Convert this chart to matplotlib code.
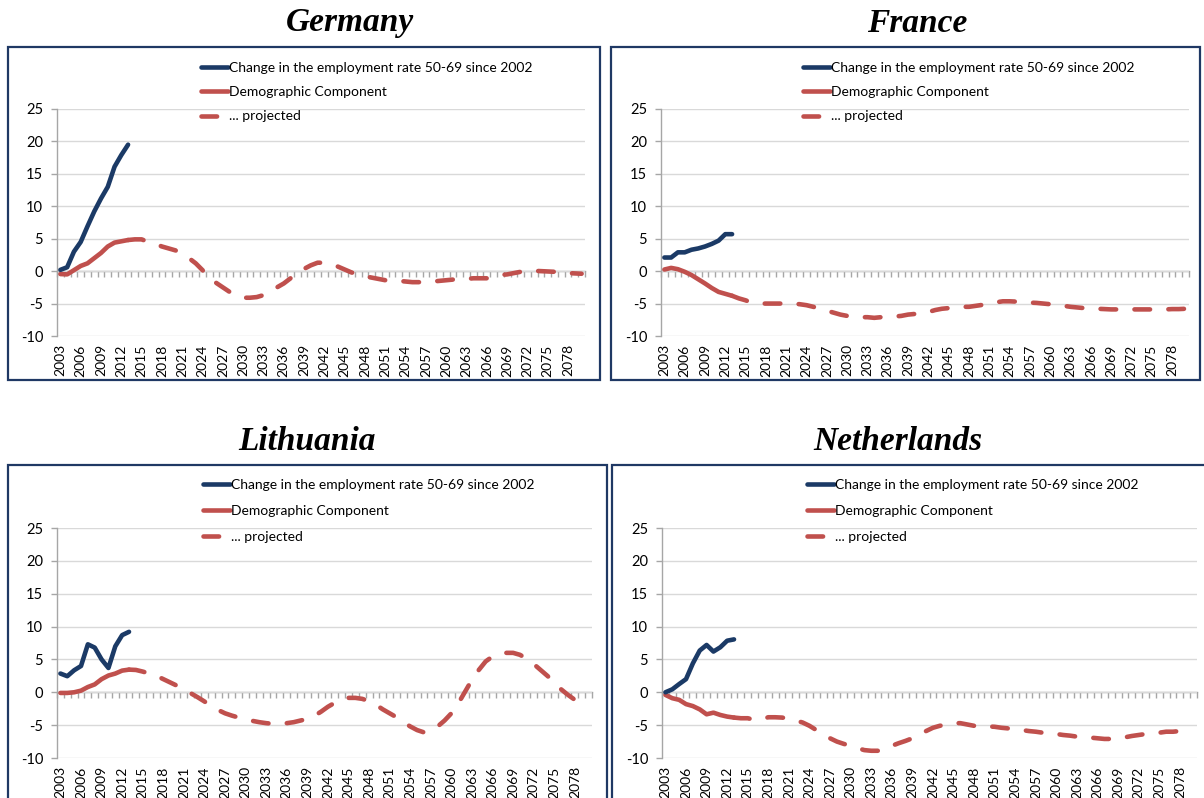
import matplotlib
matplotlib.use("Agg")
import matplotlib.pyplot as plt
from matplotlib.patches import Rectangle
from matplotlib.lines import Line2D
import numpy as np

plt.rcParams['font.family'] = ['Lato', 'DejaVu Sans']

# ---------------- data ----------------
years = list(range(2003, 2081))
hist_years = list(range(2003, 2014))       # observed period
proj_years = list(range(2013, 2081))       # projected period
tick_years = years[::3]
y_ticks = [-10, -5, 0, 5, 10, 15, 20, 25]

countries = ["Germany", "France", "Lithuania", "Netherlands"]

legend_labels = ["Change in the employment rate 50-69 since 2002",
                 "Demographic Component",
                 "... projected"]

germany_employment = [0.2, 0.6, 3.0, 4.5, 6.9, 9.2, 11.2, 13.0, 16.1, 17.9, 19.5]
germany_demographic = [-0.45, -0.5, 0.15, 0.8, 1.2, 2.0, 2.8, 3.8, 4.4, 4.6, 4.8]
germany_projected = [
    4.8, 4.9, 4.9, 4.5, 4.2, 3.8, 3.5, 3.2, 2.7, 2.0,
    1.2, 0.15, -1.0, -1.8, -2.5, -3.2, -3.7, -4.1, -4.1, -4.0,
    -3.7, -3.2, -2.5, -1.9, -1.1, -0.4, 0.35, 0.9, 1.3, 1.3,
    1.1, 0.7, 0.25, -0.2, -0.5, -0.8, -1.0, -1.2, -1.4, -1.5,
    -1.5, -1.6, -1.7, -1.7, -1.7, -1.6, -1.5, -1.4, -1.3, -1.2,
    -1.2, -1.1, -1.1, -1.1, -0.9, -0.6, -0.5, -0.3, -0.1, 0.0,
    0.05, 0.0, -0.05, -0.1, -0.2, -0.3, -0.35, -0.4]

france_employment = [2.1, 2.1, 2.9, 2.9, 3.3, 3.5, 3.8, 4.2, 4.7, 5.7, 5.7]
france_demographic = [0.25, 0.5, 0.3, -0.1, -0.6, -1.25, -1.9, -2.6, -3.2, -3.5, -3.8]
france_projected = [
    -3.8, -4.2, -4.5, -4.9, -5.0, -5.0, -5.0, -5.0, -5.0, -5.0,
    -5.1, -5.25, -5.5, -5.8, -6.1, -6.4, -6.7, -6.9, -7.0, -7.1,
    -7.1, -7.2, -7.1, -7.0, -7.0, -6.9, -6.7, -6.6, -6.4, -6.3,
    -6.0, -5.8, -5.7, -5.6, -5.5, -5.5, -5.35, -5.2, -5.0, -4.8,
    -4.65, -4.65, -4.7, -4.75, -4.85, -4.9, -5.0, -5.1, -5.2, -5.35,
    -5.5, -5.6, -5.7, -5.8, -5.8, -5.85, -5.9, -5.9, -5.9, -5.9,
    -5.9, -5.9, -5.9, -5.9, -5.9, -5.85, -5.85, -5.8]

lithuania_employment = [2.85, 2.45, 3.35, 4.0, 7.3, 6.8, 5.0, 3.7, 7.0, 8.7, 9.2]
lithuania_demographic = [-0.1, -0.1, 0.0, 0.25, 0.8, 1.2, 2.0, 2.55, 2.85, 3.3, 3.45]
lithuania_projected = [
    3.45, 3.4, 3.15, 2.85, 2.5, 2.0, 1.5, 1.0, 0.45, -0.15,
    -0.75, -1.4, -2.1, -2.7, -3.2, -3.55, -3.85, -4.1, -4.35, -4.55,
    -4.7, -4.8, -4.8, -4.7, -4.55, -4.3, -4.05, -3.6, -2.95, -2.2,
    -1.6, -1.05, -0.85, -0.85, -1.0, -1.35, -1.9, -2.6, -3.2, -3.8,
    -4.55, -5.2, -5.75, -6.1, -5.85, -5.2, -4.3, -3.2, -1.7, 0.1,
    1.9, 3.4, 4.7, 5.45, 5.85, 6.0, 6.0, 5.7, 5.1, 4.3,
    3.4, 2.5, 1.5, 0.45, -0.4, -1.15, -1.8, -2.3]

netherlands_employment = [0.0, 0.45, 1.25, 2.0, 4.4, 6.35, 7.2, 6.2, 6.85, 7.85, 8.05]
netherlands_demographic = [-0.4, -0.9, -1.15, -1.8, -2.1, -2.6, -3.35, -3.1, -3.45, -3.7, -3.85]
netherlands_projected = [
    -3.85, -3.95, -3.95, -4.2, -4.1, -3.8, -3.8, -3.85, -4.0, -4.3,
    -4.6, -5.1, -5.75, -6.35, -7.0, -7.5, -7.85, -8.15, -8.5, -8.8,
    -8.9, -8.9, -8.6, -8.15, -7.75, -7.4, -7.0, -6.5, -5.9, -5.4,
    -5.1, -4.9, -4.7, -4.7, -4.9, -5.1, -5.2, -5.2, -5.25, -5.4,
    -5.5, -5.55, -5.75, -5.9, -6.0, -6.15, -6.25, -6.35, -6.5, -6.6,
    -6.75, -6.85, -6.9, -7.0, -7.1, -7.1, -7.05, -6.85, -6.65, -6.5,
    -6.35, -6.25, -6.15, -6.0, -6.0, -5.9, -5.85, -5.75]

employment = [germany_employment, france_employment,
              lithuania_employment, netherlands_employment]
demographic = [germany_demographic, france_demographic,
               lithuania_demographic, netherlands_demographic]
projected = [germany_projected, france_projected,
             lithuania_projected, netherlands_projected]

# ---------------- layout (pixels) ----------------
W, H = 1204, 798
BLUE = '#1B3A66'
RED = '#C0504D'
GREY = '#A6A6A6'
GRID = '#D9D9D9'
FRAME = '#1F3864'
LW = 3.3
DASH = (0, (3.4, 4.0))

# axes boxes: (left, top, right, bottom) in pixels
axes_px = [(57, 109, 585, 336), (661, 109, 1189, 336),
           (57, 528, 592, 758), (662, 528, 1197, 758)]
frames_px = [(8, 47, 600, 380), (611, 47, 1200, 380),
             (8, 465, 607, 815), (612, 465, 1215, 815)]
titles_px = [(350, 23), (917, 23), (307, 441), (898, 441)]
legend_px = [(201, 62), (803, 62), (203, 479), (807, 479)]
legend_spacing = [0.88, 0.88, 1.0, 1.0]

fig = plt.figure(figsize=(W / 100, H / 100), dpi=100)

def fx(x):
    return x / W

def fy(y):
    return 1 - y / H

x_idx = {yr: i for i, yr in enumerate(years)}
xh = [x_idx[y] for y in hist_years]
xp = [x_idx[y] for y in proj_years]

for k, name in enumerate(countries):
    l, t, r, b = axes_px[k]
    ax = fig.add_axes([fx(l), fy(b), (r - l) / W, (b - t) / H])
    ax.set_xlim(-0.5, len(years) - 0.5)
    ax.set_ylim(y_ticks[0], y_ticks[-1])
    ax.set_yticks(y_ticks)
    ax.set_yticklabels([str(v) for v in y_ticks])
    ax.yaxis.grid(True, color=GRID, lw=1.0)
    ax.set_axisbelow(True)
    for s in ['top', 'right', 'bottom']:
        ax.spines[s].set_visible(False)
    ax.spines['left'].set_color(GREY)
    ax.spines['left'].set_linewidth(1.0)
    ax.tick_params(axis='y', direction='out', length=4, width=1.0,
                   color=GREY, labelsize=10.5, pad=6, labelcolor='black')
    ax.set_xticks([x_idx[y] for y in tick_years])
    ax.set_xticklabels([str(y) for y in tick_years], rotation=90,
                       fontsize=10, color='black')
    ax.tick_params(axis='x', length=0, pad=6)

    # category axis crossing at zero
    pos0 = (0 - y_ticks[0]) / (y_ticks[-1] - y_ticks[0])
    sec = ax.secondary_xaxis(pos0)
    sec.set_xticks(np.arange(len(years) + 1) - 0.5)
    sec.tick_params(direction='out', length=4, width=1.0, color=GREY,
                    labelbottom=False, labeltop=False)
    for sp in sec.spines.values():
        sp.set_color(GREY)
        sp.set_linewidth(1.0)

    ax.plot(xp, projected[k], color=RED, lw=LW, linestyle=DASH,
            dash_capstyle='round', solid_joinstyle='round', zorder=3)
    ax.plot(xh, demographic[k], color=RED, lw=LW, solid_capstyle='round',
            solid_joinstyle='round', zorder=4)
    ax.plot(xh, employment[k], color=BLUE, lw=LW, solid_capstyle='round',
            solid_joinstyle='round', zorder=5)

    handles = [Line2D([], [], color=BLUE, lw=LW, solid_capstyle='round'),
               Line2D([], [], color=RED, lw=LW, solid_capstyle='round'),
               Line2D([], [], color=RED, lw=LW, linestyle=DASH,
                      dash_capstyle='round')]
    lx, ly = legend_px[k]
    ax.legend(handles, legend_labels, loc='upper left',
              bbox_to_anchor=(fx(lx), fy(ly)), bbox_transform=fig.transFigure,
              frameon=False, fontsize=10, handlelength=1.95,
              handletextpad=0.1, labelspacing=legend_spacing[k], borderpad=0,
              borderaxespad=0)

    tx, ty = titles_px[k]
    fig.text(fx(tx), fy(ty), name, ha='center', va='center',
             fontsize=24, fontweight='bold', fontstyle='italic',
             family='Liberation Serif')

    x0, y0, x1, y1 = frames_px[k]
    fig.add_artist(Rectangle((fx(x0), fy(y1)), (x1 - x0) / W, (y1 - y0) / H,
                             transform=fig.transFigure, fill=False,
                             edgecolor=FRAME, lw=1.6))

fig.savefig('out.png', dpi=100)
